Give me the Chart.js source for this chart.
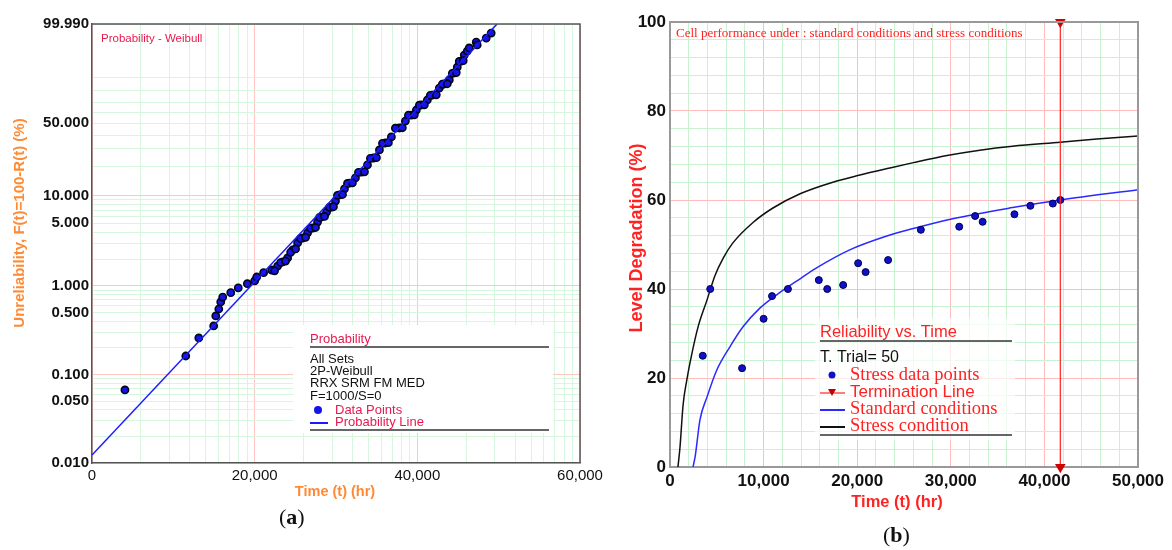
<!DOCTYPE html>
<html>
<head>
<meta charset="utf-8">
<script src="https://cdn.jsdelivr.net/npm/chart.js@4.4.1/dist/chart.umd.min.js"></script>
<style>
  body { margin: 0; background: #fff; width: 1172px; height: 550px; position: relative; overflow: hidden; }
  #chartA { position: absolute; left: 0; top: 0; }
  #chartB { position: absolute; left: 612px; top: 0; }
  .tag { position: absolute; font: 22px "Liberation Serif", serif; color: #111; }
</style>
</head>
<body>
<canvas id="chartA" width="612" height="550"></canvas>
<canvas id="chartB" width="560" height="550"></canvas>
<div class="tag" style="left:279px;top:504px">(<b>a</b>)</div>
<div class="tag" style="left:883px;top:522px">(<b>b</b>)</div>
<script>
// ---- panel (a): Weibull probability plot ----
const failTimes = [4050, 11530, 13130, 14960, 15220, 15590, 15830, 16070, 17060, 17980,
  19100, 20000, 20250, 21100, 22090, 22820, 23440, 24050, 24660, 25280,
  25890, 26500, 27120, 27730, 28220, 28840, 29450, 29940, 30430, 31040,
  31660, 32390, 33130, 33870, 34600, 35340, 36070, 36810, 37790, 38530,
  39260, 39880, 40490, 41230, 41840, 42700, 43310, 43930, 44540, 44910,
  45400, 45770, 46140, 46380, 47240, 47360, 48470, 49080,
  22450, 23190, 23800, 24420, 25030, 25640, 26260, 26870, 27480, 27980,
  28590, 29200, 29690, 30180, 30800, 31410, 32020, 32760, 33500, 34230,
  34970, 35710, 36440, 37300, 38160, 38900, 39630, 40250, 40860, 41600,
  42330, 43070, 43680, 44300, 44790, 45150, 45640];
const failProb = [0.067, 0.162, 0.259, 0.354, 0.459, 0.55, 0.66, 0.75, 0.84, 0.95,
  1.06, 1.14, 1.26, 1.41, 1.51, 1.67, 1.86, 2.06, 2.53, 3.03,
  3.44, 3.91, 4.44, 5.17, 5.87, 6.65, 7.54, 8.76, 10.2, 11.8,
  13.6, 15.4, 17.7, 20.9, 24.5, 29.3, 34.0, 38.5, 45.9, 52.1,
  57.7, 62.5, 67.3, 72.0, 76.5, 82.4, 85.5, 88.3, 92.4, 95.0,
  97.0, 98.35, 98.95, 99.28, 99.68, 99.52, 99.83, 99.93,
  1.48, 1.83, 1.9, 2.38, 2.6, 3.4, 3.5, 4.4, 4.5, 5.8,
  5.95, 7.5, 7.6, 10.1, 10.3, 13.5, 13.7, 17.6, 17.8, 24.3,
  24.7, 33.8, 34.2, 45.7, 46.1, 57.5, 57.9, 67.1, 67.5, 76.3,
  76.7, 85.3, 85.7, 92.2, 92.6, 96.9, 97.1];
const probLineTimes = [0, 49800];
const probLineF = [0.0123, 99.99];
const probTickVals = [99.99, 50, 10, 5, 1, 0.5, 0.1, 0.05, 0.01];
const probTickLabels = ['99.990', '50.000', '10.000', '5.000', '1.000', '0.500', '0.100', '0.050', '0.010'];
const probMajor = [0.1, 1, 10];
const timeMajorA = [0, 20000, 40000, 60000];
const legendInfoA = ['All Sets', '2P-Weibull', 'RRX SRM FM MED', 'F=1000/S=0'];

// ---- panel (b): degradation vs time ----
const stressT = [3500, 4300, 7700, 10000, 10900, 12600, 15900, 16800, 18500, 20100,
  20900, 23300, 26800, 30900, 32600, 33400, 36800, 38500, 40900, 41700];
const stressV = [25, 40, 22.2, 33.3, 38.4, 40, 42, 40, 40.9, 45.8,
  43.8, 46.5, 53.3, 54, 56.4, 55.1, 56.8, 58.7, 59.2, 60];
const stdT = [2460, 2700, 3200, 3950, 5000, 6400, 7800, 9600, 11400, 13900,
  15700, 19200, 23000, 26000, 30200, 36600, 41700, 50000];
const stdV = [0, 2.5, 10.6, 15.7, 21.8, 27, 31.5, 35.7, 38.7, 42.3,
  44.8, 48.8, 51.8, 53.6, 55.8, 58.3, 60, 62.3];
const strT = [850, 1070, 1400, 1800, 2350, 3000, 3950, 4800, 5700, 6700, 8900, 11000,
  13900, 17400, 20300, 23500, 26000, 29600, 33100, 36600, 41700, 45600, 50000];
const strV = [0, 4.5, 14, 19.6, 25.6, 31.5, 37.5, 43, 47, 50.3, 55, 58.2,
  61.4, 64, 65.6, 67.2, 68.4, 70, 71.2, 72.1, 73, 73.7, 74.4];
const termT = 41700;
const termV = [0, 100];

const ORANGE = '#ff8a33';
const CRIMSON = '#e8194f';
const RED = '#ff2222';
const SANS = '"Liberation Sans", Arial, sans-serif';
const SERIF = '"Liberation Serif", "Times New Roman", serif';

Chart.defaults.font.family = SANS;
Chart.defaults.animation = false;

// Weibull probability transform: ln(-ln(1-F))
const wb = p => Math.log(-Math.log(1 - p / 100));

function probTicks() {
  const vals = new Set(probTickVals.concat(probMajor));
  [0.01, 0.1, 1, 10].forEach(d => {
    for (let k = 2; k <= 9; k++) vals.add(Number((d * k).toPrecision(2)));
  });
  return [...vals].map(p => {
    const i = probTickVals.indexOf(p);
    return { value: wb(p), lbl: i >= 0 ? probTickLabels[i] : '', kind: probMajor.includes(p) ? 'major' : 'minor' };
  }).sort((a, b) => a.value - b.value);
}

function timeTicksA() {
  const out = timeMajorA.map(v => ({ value: v, lbl: v.toLocaleString('en-US'), kind: 'major' }));
  for (let b = 0; b < 3; b++) {
    for (let k = 2; k <= 9; k++) out.push({ value: 20000 * (b + Math.log10(k)), lbl: '', kind: 'minor' });
  }
  return out.sort((a, b) => a.value - b.value);
}

function text(ctx, s, x, y, font, color, align, rot) {
  ctx.save();
  ctx.translate(x, y);
  if (rot) ctx.rotate(rot);
  ctx.font = font;
  ctx.fillStyle = color;
  ctx.textAlign = align || 'left';
  ctx.textBaseline = 'middle';
  ctx.fillText(s, 0, 0);
  ctx.restore();
}

function hline(ctx, x1, x2, y, color, w) {
  ctx.strokeStyle = color;
  ctx.lineWidth = w;
  ctx.beginPath();
  ctx.moveTo(x1, y);
  ctx.lineTo(x2, y);
  ctx.stroke();
}

const panelA = {
  id: 'panelA',
  afterDraw(chart) {
    const { ctx, chartArea: a } = chart;
    ctx.save();
    ctx.strokeStyle = '#555';
    ctx.lineWidth = 1.5;
    ctx.beginPath();
    ctx.moveTo(a.left, a.top);
    ctx.lineTo(a.right, a.top);
    ctx.lineTo(a.right, a.bottom);
    ctx.stroke();

    text(ctx, 'Probability - Weibull', a.left + 9, a.top + 15, '11.5px ' + SANS, CRIMSON);
    text(ctx, 'Time (t) (hr)', 335, 492, 'bold 14.5px ' + SANS, ORANGE, 'center');
    text(ctx, 'Unreliability, F(t)=100-R(t) (%)', 20, 223, 'bold 15px ' + SANS, ORANGE, 'center', -Math.PI / 2);

    // legend box
    ctx.fillStyle = '#fff';
    ctx.fillRect(293, 325, 260, 108);
    text(ctx, 'Probability', 310, 339, '13px ' + SANS, CRIMSON);
    hline(ctx, 310, 549, 347, '#333', 1.5);
    legendInfoA.forEach((s, i) => text(ctx, s, 310, 359 + i * 12.4, '13px ' + SANS, '#111'));
    ctx.fillStyle = '#1414e6';
    ctx.beginPath();
    ctx.arc(318, 410, 4, 0, Math.PI * 2);
    ctx.fill();
    text(ctx, 'Data Points', 335, 410, '13px ' + SANS, CRIMSON);
    hline(ctx, 310, 328, 423, '#1a1aff', 2);
    text(ctx, 'Probability Line', 335, 422, '13px ' + SANS, CRIMSON);
    hline(ctx, 310, 549, 430, '#333', 1.5);
    ctx.restore();
  }
};

new Chart(document.getElementById('chartA'), {
  type: 'scatter',
  data: {
    datasets: [
      {
        label: 'Probability Line',
        type: 'line',
        data: probLineTimes.map((t, i) => ({ x: t, y: wb(probLineF[i]) })),
        borderColor: '#1a1aff',
        borderWidth: 1.5,
        pointRadius: 0
      },
      {
        label: 'Data Points',
        data: failTimes.map((t, i) => ({ x: t, y: wb(failProb[i]) })),
        backgroundColor: '#1414e6',
        borderColor: '#05051a',
        borderWidth: 1.6,
        pointRadius: 3.6
      }
    ]
  },
  options: {
    responsive: false,
    layout: { padding: { left: 0, top: 24, right: 32, bottom: 0 } },
    plugins: { legend: { display: false }, tooltip: { enabled: false } },
    scales: {
      x: {
        type: 'linear', min: 0, max: 60000,
        afterBuildTicks: s => { s.ticks = timeTicksA(); },
        afterFit: s => { s.height = 87; },
        grid: { color: c => (c.tick && c.tick.kind === 'major') ? '#ffc4c4' : '#d6f7de', drawTicks: false, lineWidth: 1 },
        border: { color: '#555', width: 1.5 },
        ticks: { autoSkip: false, maxRotation: 0, padding: 4, color: '#111', font: { size: 15 },
          callback: (v, i, t) => t[i].lbl }
      },
      y: {
        type: 'linear', min: wb(0.01), max: wb(99.99),
        afterBuildTicks: s => { s.ticks = probTicks(); },
        afterFit: s => { s.width = 92; },
        grid: { color: c => (c.tick && c.tick.kind === 'major') ? '#ffc4c4' : '#d6f7de', drawTicks: false, lineWidth: 1 },
        border: { color: '#555', width: 1.5 },
        ticks: { autoSkip: false, padding: 3, color: '#111', font: { size: 15, weight: 'bold' },
          callback: (v, i, t) => t[i].lbl }
      }
    }
  },
  plugins: [panelA]
});

// ---- panel (b) ----
const OX = 612; // canvas offset of panel (b)

const panelB = {
  id: 'panelB',
  afterDraw(chart) {
    const { ctx, chartArea: a } = chart;
    ctx.save();
    ctx.strokeStyle = '#999';
    ctx.lineWidth = 2;
    ctx.beginPath();
    ctx.moveTo(a.left, a.top);
    ctx.lineTo(a.right, a.top);
    ctx.lineTo(a.right, a.bottom);
    ctx.stroke();

    text(ctx, 'Cell performance under : standard conditions and stress conditions', 676 - OX, 34, '13px ' + SERIF, RED);
    text(ctx, 'Time (t) (hr)', 897 - OX, 502, 'bold 16.5px ' + SANS, RED, 'center');
    text(ctx, 'Level Degradation (%)', 637 - OX, 238, 'bold 18px ' + SANS, RED, 'center', -Math.PI / 2);

    // legend
    ctx.fillStyle = 'rgba(255,255,255,0.7)';
    ctx.fillRect(815 - OX, 318, 200, 122);
    text(ctx, 'Reliability vs. Time', 820 - OX, 332, '16.5px ' + SANS, RED);
    hline(ctx, 820 - OX, 1012 - OX, 341, '#333', 1.5);
    text(ctx, 'T. Trial= 50', 820 - OX, 358, '16px ' + SANS, '#111');
    ctx.fillStyle = '#1010c8';
    ctx.beginPath();
    ctx.arc(832 - OX, 375, 3.5, 0, Math.PI * 2);
    ctx.fill();
    text(ctx, 'Stress data points', 850 - OX, 375, '18.5px ' + SERIF, RED);
    hline(ctx, 820 - OX, 845 - OX, 393, RED, 1.2);
    ctx.fillStyle = '#c00000';
    ctx.beginPath();
    ctx.moveTo(828 - OX, 389); ctx.lineTo(836 - OX, 389); ctx.lineTo(832 - OX, 396);
    ctx.closePath();
    ctx.fill();
    text(ctx, 'Termination Line', 850 - OX, 392, '17px ' + SANS, RED);
    hline(ctx, 820 - OX, 845 - OX, 410, '#2a2aff', 2);
    text(ctx, 'Standard conditions', 850 - OX, 409, '18.5px ' + SERIF, RED);
    hline(ctx, 820 - OX, 845 - OX, 427, '#111', 2);
    text(ctx, 'Stress condition', 850 - OX, 426, '18.5px ' + SERIF, RED);
    hline(ctx, 820 - OX, 1012 - OX, 435, '#333', 1.5);
    ctx.restore();
  }
};

new Chart(document.getElementById('chartB'), {
  type: 'scatter',
  data: {
    datasets: [
      {
        label: 'Termination Line',
        type: 'line',
        data: termV.map(v => ({ x: termT, y: v })),
        borderColor: RED,
        borderWidth: 1.2,
        pointStyle: 'triangle',
        rotation: 180,
        pointRadius: 5,
        backgroundColor: '#d00000',
        pointBorderColor: '#d00000',
        clip: false
      },
      {
        label: 'Stress data points',
        data: stressT.map((t, i) => ({ x: t, y: stressV[i] })),
        backgroundColor: '#1010c8',
        borderColor: '#000050',
        borderWidth: 1,
        pointRadius: 3.5
      },
      {
        label: 'Standard conditions',
        type: 'line',
        data: stdT.map((t, i) => ({ x: t, y: stdV[i] })),
        borderColor: '#2a2aff',
        borderWidth: 1.5,
        pointRadius: 0,
        cubicInterpolationMode: 'monotone'
      },
      {
        label: 'Stress condition',
        type: 'line',
        data: strT.map((t, i) => ({ x: t, y: strV[i] })),
        borderColor: '#111',
        borderWidth: 1.5,
        pointRadius: 0,
        cubicInterpolationMode: 'monotone'
      }
    ]
  },
  options: {
    responsive: false,
    layout: { padding: { left: 0, top: 22, right: 34, bottom: 0 } },
    plugins: { legend: { display: false }, tooltip: { enabled: false } },
    scales: {
      x: {
        type: 'linear', min: 0, max: 50000,
        afterFit: s => { s.height = 83; },
        grid: { color: c => (c.tick && c.tick.value % 10000 === 0) ? '#ffbcbc' : '#c8f2d0', drawTicks: false },
        border: { color: '#999', width: 2 },
        ticks: { stepSize: 2000, maxTicksLimit: 100, autoSkip: false, maxRotation: 0, padding: 4,
          color: '#111', font: { size: 17, weight: 'bold' },
          callback: v => v % 10000 === 0 ? v.toLocaleString('en-US') : '' }
      },
      y: {
        type: 'linear', min: 0, max: 100,
        afterFit: s => { s.width = 58; },
        grid: { color: c => (c.tick && c.tick.value % 20 === 0) ? '#ffbcbc' : '#c8f2d0', drawTicks: false },
        border: { color: '#999', width: 2 },
        ticks: { stepSize: 4, maxTicksLimit: 100, autoSkip: false, padding: 4,
          color: '#111', font: { size: 17, weight: 'bold' },
          callback: v => v % 20 === 0 ? String(v) : '' }
      }
    }
  },
  plugins: [panelB]
});
</script>
</body>
</html>
